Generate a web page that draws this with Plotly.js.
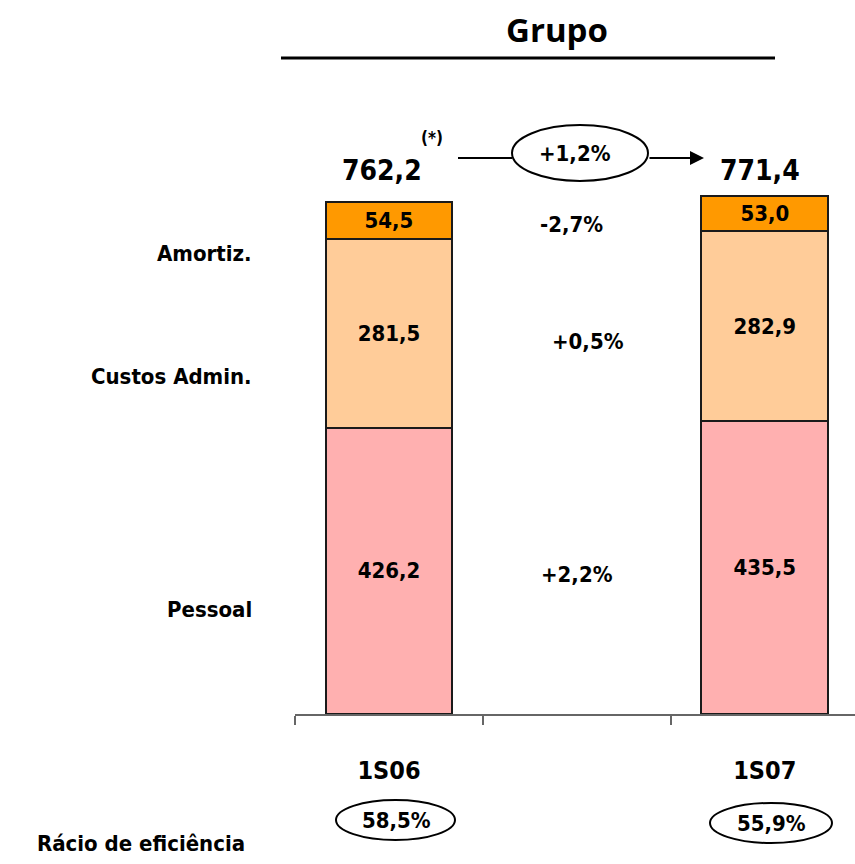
<!DOCTYPE html>
<html>
<head>
<meta charset="utf-8">
<script src="https://cdn.plot.ly/plotly-3.0.1.min.js"></script>
<style>html,body{margin:0;padding:0;background:#fff;}#chart{width:855px;height:864px;}</style>
</head>
<body>
<div id="chart"></div>
<script>
// ---- data ----
const categories = ['1S06', ' ', '1S07'];
const periods = ['1S06', '1S07'];
const pessoal = [426.2, 435.5];
const custosAdmin = [281.5, 282.9];
const amortiz = [54.5, 53.0];
const totals = [762.2, 771.4];
const seriesNames = ['Pessoal', 'Custos Admin.', 'Amortiz.'];
const changeLabels = ['+2,2%', '+0,5%', '-2,7%'];
const totalChange = '+1,2%';
const efficiency = ['58,5%', '55,9%'];

const FONT = 'DejaVu Sans Condensed, DejaVu Sans, sans-serif';
const bold = (size) => ({family: FONT, size: size, color: '#000', weight: 'bold'});

function barTrace(name, vals, color) {
  return {
    type: 'bar', name: name, x: periods, y: vals, width: 0.675,
    marker: {color: color, line: {color: '#1a1a1a', width: 2}},
    texttemplate: '%{y:.1f}', textposition: 'inside', insidetextanchor: 'middle',
    constraintext: 'none', textangle: 0,
    textfont: bold(22), hoverinfo: 'skip', cliponaxis: false
  };
}

const data = [
  barTrace(seriesNames[0], pessoal, '#FFB0B0'),
  barTrace(seriesNames[1], custosAdmin, '#FFCC99'),
  barTrace(seriesNames[2], amortiz, '#FF9900')
];

// plot area: x 295..855, y 100..714
const PX = (px) => (px - 295) / 560;
const PY = (py) => (714 - py) / 614;

function note(o) {
  return Object.assign({showarrow: false, xanchor: 'center', yanchor: 'middle'}, o);
}

const annotations = [];
// totals
annotations.push(note({xref: 'x', yref: 'paper', x: 0, y: PY(170), xshift: -7, text: totals[0].toFixed(1).replace('.', ','), font: bold(28)}));
annotations.push(note({xref: 'x', yref: 'paper', x: 2, y: PY(170), xshift: -5, text: totals[1].toFixed(1).replace('.', ','), font: bold(28)}));
annotations.push(note({xref: 'paper', yref: 'paper', x: PX(432), y: PY(138), text: '(*)', font: bold(17)}));
// change labels in the middle column
annotations.push(note({xref: 'x', yref: 'y', x: 1, y: 207, xshift: 0, text: changeLabels[0], font: bold(22)}));
annotations.push(note({xref: 'x', yref: 'y', x: 1, y: 554, xshift: 11, text: changeLabels[1], font: bold(22)}));
annotations.push(note({xref: 'x', yref: 'y', x: 1, y: 728, xshift: -5, text: changeLabels[2], font: bold(22)}));
// total change in ellipse
annotations.push(note({xref: 'paper', yref: 'paper', x: PX(575), y: PY(153), text: totalChange, font: bold(22)}));
// arrow
annotations.push({xref: 'paper', yref: 'paper', x: PX(704), y: PY(158), ax: -56, ay: 0, axref: 'pixel', ayref: 'pixel', text: '', showarrow: true, arrowhead: 2, arrowsize: 1.4, arrowwidth: 2, arrowcolor: '#000'});
// series labels on left
annotations.push(note({xref: 'paper', yref: 'paper', x: PX(254), y: PY(253), xanchor: 'right', text: seriesNames[2], font: bold(22)}));
annotations.push(note({xref: 'paper', yref: 'paper', x: PX(254), y: PY(376), xanchor: 'right', text: seriesNames[1], font: bold(22)}));
annotations.push(note({xref: 'paper', yref: 'paper', x: PX(254), y: PY(609), xanchor: 'right', text: seriesNames[0], font: bold(22)}));
// efficiency
annotations.push(note({xref: 'paper', yref: 'paper', x: PX(247), y: PY(843), xanchor: 'right', text: 'Rácio de eficiência', font: bold(22)}));
annotations.push(note({xref: 'paper', yref: 'paper', x: PX(396), y: PY(820), text: efficiency[0], font: bold(22)}));
annotations.push(note({xref: 'paper', yref: 'paper', x: PX(771), y: PY(823), text: efficiency[1], font: bold(22)}));

const shapes = [
  {type: 'line', xref: 'paper', yref: 'paper', x0: PX(281), x1: PX(775), y0: PY(58), y1: PY(58), line: {color: '#000', width: 3}},
  {type: 'circle', xref: 'paper', yref: 'paper', x0: PX(512), x1: PX(648), y0: PY(181), y1: PY(125), line: {color: '#000', width: 2}},
  {type: 'line', xref: 'paper', yref: 'paper', x0: PX(458), x1: PX(512), y0: PY(158), y1: PY(158), line: {color: '#000', width: 2}},
  {type: 'circle', xref: 'paper', yref: 'paper', x0: PX(336), x1: PX(455), y0: PY(840), y1: PY(800), line: {color: '#000', width: 2}},
  {type: 'circle', xref: 'paper', yref: 'paper', x0: PX(710), x1: PX(832), y0: PY(843), y1: PY(803), line: {color: '#000', width: 2}}
];

const layout = {
  width: 855, height: 864,
  margin: {l: 295, r: 0, t: 100, b: 150, pad: 0},
  paper_bgcolor: '#fff', plot_bgcolor: '#fff',
  separators: ', ',
  barmode: 'stack',
  showlegend: false,
  title: {text: 'Grupo', x: 557 / 855, xanchor: 'center', y: 1 - 30 / 864, yanchor: 'middle',
          font: {family: 'Open Sans, DejaVu Sans, sans-serif', size: 33, color: '#000', weight: 'bold'}},
  xaxis: {
    type: 'category', categoryorder: 'array', categoryarray: categories,
    range: [-0.5, 2.48], tickson: 'boundaries', ticks: 'outside', ticklen: 9, tickcolor: '#666', tickwidth: 1.5,
    showline: true, linecolor: '#666', linewidth: 1.5, showgrid: false, zeroline: false,
    tickfont: bold(25), ticklabelstandoff: 33, fixedrange: true
  },
  yaxis: {range: [0, 914], visible: false, showgrid: false, zeroline: false, fixedrange: true},
  annotations: annotations,
  shapes: shapes
};

Plotly.newPlot('chart', data, layout, {displayModeBar: false, staticPlot: true});
</script>
</body>
</html>
